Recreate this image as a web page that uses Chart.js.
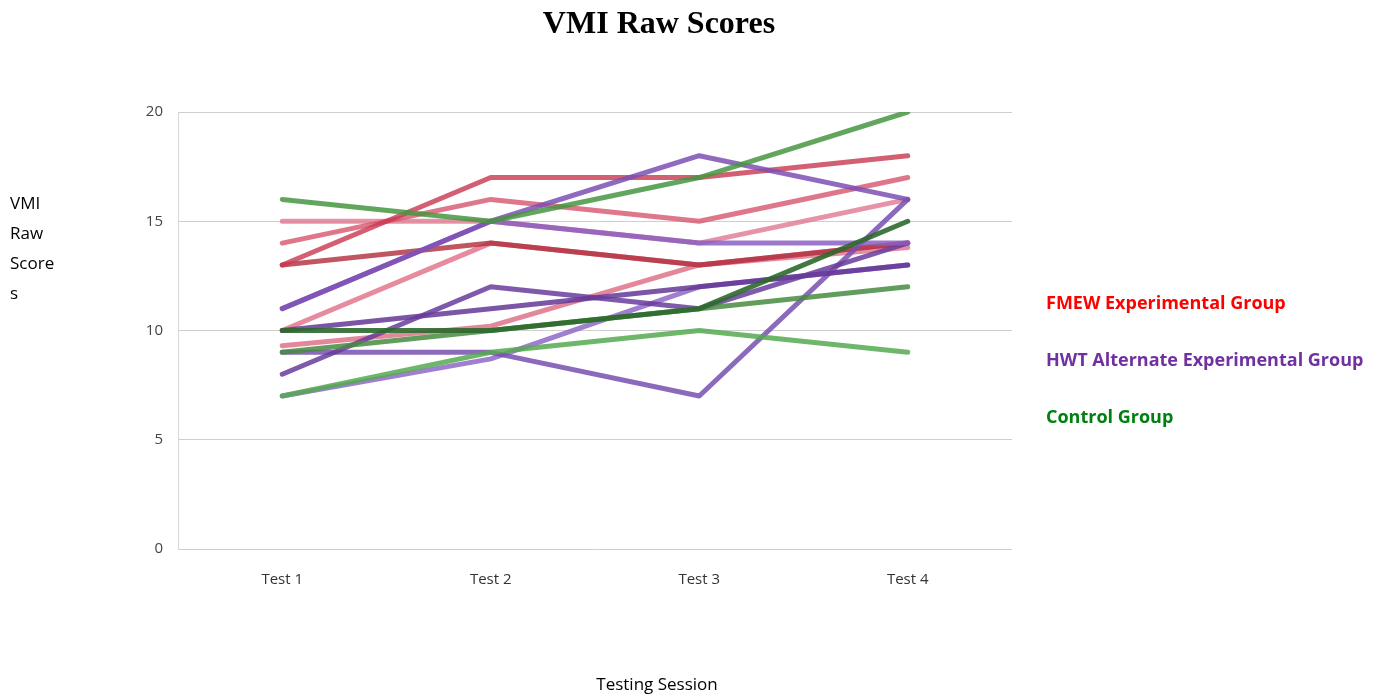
<!DOCTYPE html>
<html>
<head>
<meta charset="utf-8">
<script src="https://cdn.jsdelivr.net/npm/chart.js@4"></script>
<style>
  body { margin: 0; background: #fff; width: 1374px; height: 698px; overflow: hidden; position: relative; }
  #chart { position: absolute; left: 0; top: 0; }
  .title { position: absolute; top: 4px; left: 0; width: 1318px; text-align: center;
           font: bold 32px "Liberation Serif", serif; color: #000; }
  .ylab { position: absolute; left: 10px; top: 188px; font: 17px "Open Sans", sans-serif; line-height: 30px; color: #000; }
  .xlab { position: absolute; top: 672px; left: 0; width: 1314px; text-align: center; font: 17px "Open Sans", sans-serif; color: #000; }
  .leg { position: absolute; left: 1046px; font: bold 18px "Open Sans", sans-serif; }
</style>
</head>
<body>
<canvas id="chart" width="1374" height="698"></canvas>
<div class="title">VMI Raw Scores</div>
<div class="ylab">VMI<br>Raw<br>Score<br>s</div>
<div class="xlab">Testing Session</div>
<div class="leg" style="top:290px;color:#ff0000">FMEW Experimental Group</div>
<div class="leg" style="top:347px;color:#7030a0">HWT Alternate Experimental Group</div>
<div class="leg" style="top:404px;color:#00800f">Control Group</div>
<script>
// 测试场次
var sessions = ['Test 1', 'Test 2', 'Test 3', 'Test 4'];
var yTicks = [0, 5, 10, 15, 20];

// FMEW 实验组
var fmew1 = [13, 17, 17, 18];
var fmew2 = [14, 16, 15, 17];
var fmew3 = [15, 15, 14, 16];
var fmew4 = [13, 14, 13, 14];
var fmew5 = [10, 14, 13, 13.8];
var fmew6 = [9.3, 10.2, 13, 14];

// HWT 实验组
var hwt1 = [11, 15, 18, 16];
var hwt2 = [11, 15, 14, 14];
var hwt3 = [8, 12, 11, 14];
var hwt4 = [10, 11, 12, 13];
var hwt5 = [9, 9, 7, 16];
var hwt6 = [7, 8.7, 12, 13];

// 对照组
var ctrl1 = [16, 15, 17, 20];
var ctrl2 = [7, 9, 10, 9];
var ctrl3 = [10, 10, 11, 15];
var ctrl4 = [9, 10, 11, 12];

function line(data, color) {
    return {
        data: data,
        borderColor: color,
        borderWidth: 5,
        borderCapStyle: 'round',
        borderJoinStyle: 'round',
        pointRadius: 0,
        fill: false,
        tension: 0
    };
}

var ctx = document.getElementById('chart').getContext('2d');
var chart = new Chart(ctx, {
    type: 'line',
    data: {
        labels: sessions,
        datasets: [
            line(ctrl1, 'rgba(70, 150, 65, 0.85)'),
            line(ctrl2, 'rgba(85, 170, 80, 0.85)'),
            line(ctrl3, 'rgba(45, 105, 45, 0.9)'),
            line(ctrl4, 'rgba(70, 140, 65, 0.85)'),
            line(hwt1, 'rgba(125, 80, 180, 0.85)'),
            line(hwt2, 'rgba(140, 95, 195, 0.85)'),
            line(hwt3, 'rgba(105, 60, 155, 0.85)'),
            line(hwt4, 'rgba(100, 55, 150, 0.85)'),
            line(hwt5, 'rgba(120, 80, 175, 0.85)'),
            line(hwt6, 'rgba(145, 105, 200, 0.85)'),
            line(fmew1, 'rgba(200, 55, 80, 0.8)'),
            line(fmew2, 'rgba(215, 85, 110, 0.8)'),
            line(fmew3, 'rgba(225, 120, 145, 0.8)'),
            line(fmew4, 'rgba(175, 45, 60, 0.8)'),
            line(fmew5, 'rgba(225, 110, 135, 0.8)'),
            line(fmew6, 'rgba(220, 105, 130, 0.8)')
        ]
    },
    options: {
        responsive: false,
        animation: false,
        layout: { padding: { left: 118, top: 112, right: 362, bottom: 0 } },
        plugins: { legend: { display: false }, tooltip: { enabled: false } },
        scales: {
            x: {
                offset: true,
                grid: { display: false, drawTicks: false },
                border: { display: false },
                ticks: { padding: 22, color: '#333', font: { size: 15, family: 'Open Sans' } },
                afterFit: function (s) { s.height = 149; }
            },
            y: {
                min: 0,
                max: 20,
                afterBuildTicks: function (s) { s.ticks = yTicks.map(function (v) { return { value: v }; }); },
                grid: { color: '#cfcfcf', drawTicks: false },
                border: { display: true, color: '#d8d8d8' },
                ticks: { padding: 15, color: '#444', font: { size: 15, family: 'Open Sans' } },
                afterFit: function (s) { s.width = 60; }
            }
        }
    }
});
</script>
</body>
</html>
